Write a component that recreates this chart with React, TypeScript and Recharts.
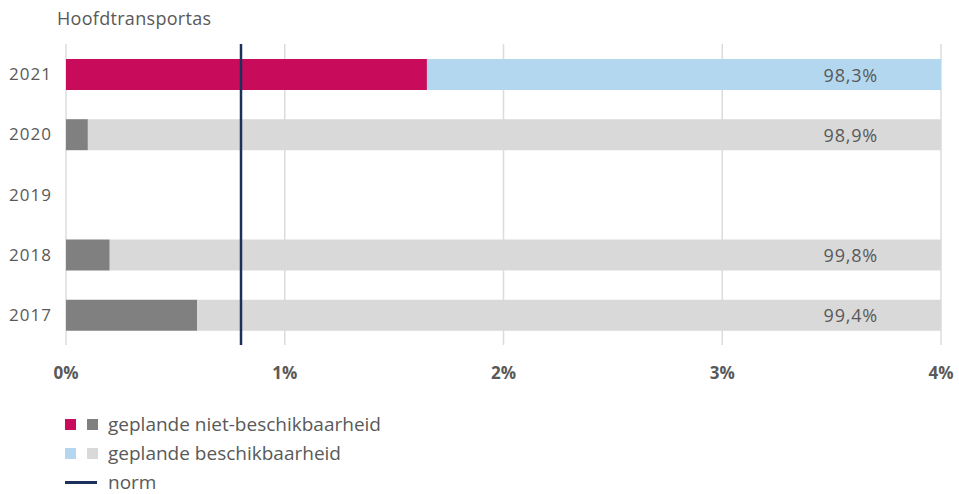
import { BarChart, Bar, XAxis, YAxis, CartesianGrid, ReferenceLine, LabelList, Cell } from "recharts";

const years = ["2021", "2020", "2019", "2018", "2017"];
const nietBeschikbaar = [1.65, 0.1, null, 0.2, 0.6];
const beschikbaar = [2.35, 3.9, null, 3.8, 3.4];
const availabilityLabels = ["98,3%", "98,9%", "", "99,8%", "99,4%"];
const norm = 0.8;
const xTicks = [0, 1, 2, 3, 4];

const data = years.map((year, i) => ({
  year,
  niet: nietBeschikbaar[i],
  wel: beschikbaar[i],
  label: availabilityLabels[i],
}));

const FONT = "'Open Sans', sans-serif";
const TEXT = "#595959";

const renderLabel = (props: any) => {
  const { x, y, width, height, value } = props;
  if (!value) return null;
  return (
    <text
      x={x + width - 63}
      y={y + height / 2}
      textAnchor="end"
      dominantBaseline="central"
      fontSize={18}
      letterSpacing={0.8}
      fill={TEXT}
      fontFamily={FONT}
    >
      {value}
    </text>
  );
};

const Swatch = ({ color }: { color: string }) => (
  <span style={{ display: "inline-block", width: 11, height: 11, background: color, marginRight: 11 }} />
);

const App = () => {
  return (
    <div style={{ position: "absolute", left: 0, top: 0, width: 959, height: 494, background: "#fff", fontFamily: FONT, color: TEXT }}>
      <div style={{ position: "absolute", left: 57, top: 6, fontSize: 18, letterSpacing: 0.3 }}>Hoofdtransportas</div>
      <BarChart
        width={959}
        height={400}
        data={data}
        layout="vertical"
        margin={{ top: 44, right: 18, bottom: 0, left: 0 }}
        barSize={31}
      >
        <CartesianGrid horizontal={false} stroke="#dcdcdc" strokeWidth={1.5} />
        <XAxis
          type="number"
          domain={[0, 4]}
          ticks={xTicks}
          tickFormatter={(v: number) => `${v}%`}
          axisLine={false}
          tickLine={false}
          height={55}
          tickMargin={16}
          tick={{ fontSize: 17, fontWeight: 700, fill: TEXT, fontFamily: FONT }}
        />
        <YAxis
          type="category"
          dataKey="year"
          width={66}
          axisLine={false}
          tickLine={false}
          tickMargin={8}
          tick={{ fontSize: 17, fill: TEXT, fontFamily: FONT, letterSpacing: 1 }}
        />
        <Bar dataKey="niet" stackId="a" isAnimationActive={false}>
          {data.map((d, i) => (
            <Cell key={d.year} fill={i === 0 ? "#c80b5a" : "#808080"} />
          ))}
        </Bar>
        <Bar dataKey="wel" stackId="a" isAnimationActive={false}>
          {data.map((d, i) => (
            <Cell key={d.year} fill={i === 0 ? "#b3d7ee" : "#d9d9d9"} />
          ))}
          <LabelList dataKey="label" content={renderLabel} />
        </Bar>
        <ReferenceLine x={norm} stroke="#1c305c" strokeWidth={2.5} />
      </BarChart>
      <div style={{ position: "absolute", left: 65, top: 410, fontSize: 19, lineHeight: "29px" }}>
        <div style={{ display: "flex", alignItems: "center" }}>
          <Swatch color="#c80b5a" />
          <Swatch color="#808080" />
          <span style={{ marginLeft: -1 }}>geplande niet-beschikbaarheid</span>
        </div>
        <div style={{ display: "flex", alignItems: "center" }}>
          <Swatch color="#b3d7ee" />
          <Swatch color="#d9d9d9" />
          <span style={{ marginLeft: -1 }}>geplande beschikbaarheid</span>
        </div>
        <div style={{ display: "flex", alignItems: "center" }}>
          <span style={{ display: "inline-block", width: 32, height: 2.5, background: "#1c305c", marginRight: 11 }} />
          <span>norm</span>
        </div>
      </div>
    </div>
  );
};

export default App;
